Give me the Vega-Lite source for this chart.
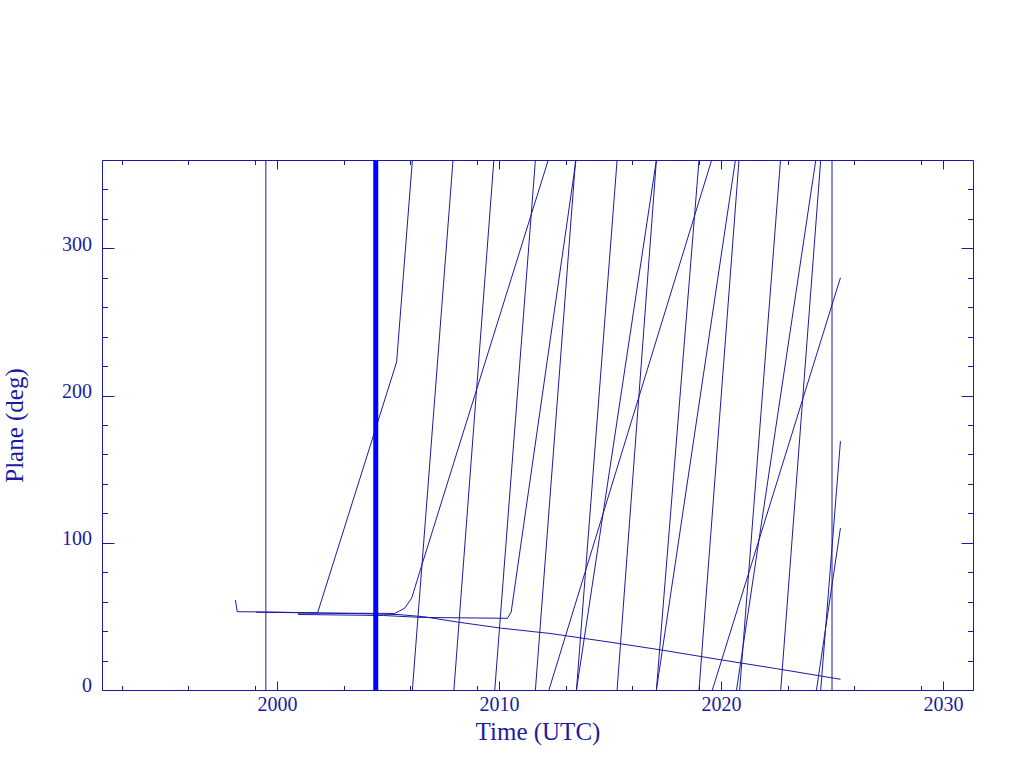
{
  "$schema": "https://vega.github.io/schema/vega-lite/v6.json",
  "width": 871,
  "height": 530,
  "autosize": {"type": "none"},
  "padding": {"left": 102, "top": 160, "right": 51, "bottom": 78},
  "background": "white",
  "config": {
    "view": {"stroke": null},
    "axis": {
      "grid": false,
      "domainColor": "#1a1aa6",
      "tickColor": "#1a1aa6",
      "labelColor": "#1a1aa6",
      "titleColor": "#1a1aa6",
      "domainWidth": 1,
      "tickWidth": 1,
      "labelFont": "Liberation Serif",
      "labelFontSize": 20,
      "titleFont": "Liberation Serif",
      "titleFontSize": 25,
      "titleFontWeight": "normal",
      "labelFlush": false,
      "labelOverlap": false,
      "labelBound": false
    }
  },
  "datasets": {
    "lines": [
      {"seg": "D", "t": 1998.13, "p": 61.1},
      {"seg": "D", "t": 1998.21, "p": 53.2},
      {"seg": "D", "t": 2000.0, "p": 52.9},
      {"seg": "D", "t": 2002.0, "p": 52.3},
      {"seg": "D", "t": 2004.0, "p": 51.8},
      {"seg": "D", "t": 2005.5, "p": 51.2},
      {"seg": "D", "t": 2006.6, "p": 49.8},
      {"seg": "D", "t": 2008.2, "p": 46.0},
      {"seg": "D", "t": 2010.1, "p": 42.0},
      {"seg": "D", "t": 2012.3, "p": 38.4},
      {"seg": "D", "t": 2015.0, "p": 32.5},
      {"seg": "D", "t": 2017.3, "p": 27.2},
      {"seg": "D", "t": 2020.0, "p": 20.5},
      {"seg": "D", "t": 2022.5, "p": 14.5},
      {"seg": "D", "t": 2025.38, "p": 7.3},
      {"seg": "A0", "t": 1999.07, "p": 52.8},
      {"seg": "A0", "t": 2001.83, "p": 52.4},
      {"seg": "A0", "t": 2005.39, "p": 222.8},
      {"seg": "A0", "t": 2006.10, "p": 360},
      {"seg": "F1", "t": 2006.10, "p": 0},
      {"seg": "F1", "t": 2007.93, "p": 360},
      {"seg": "F2", "t": 2007.97, "p": 0},
      {"seg": "F2", "t": 2009.77, "p": 360},
      {"seg": "F3", "t": 2009.81, "p": 0},
      {"seg": "F3", "t": 2011.64, "p": 360},
      {"seg": "F4", "t": 2011.64, "p": 0},
      {"seg": "F4", "t": 2013.45, "p": 360},
      {"seg": "F5", "t": 2013.49, "p": 0},
      {"seg": "F5", "t": 2015.32, "p": 360},
      {"seg": "F6", "t": 2015.32, "p": 0},
      {"seg": "F6", "t": 2017.09, "p": 360},
      {"seg": "F7", "t": 2017.09, "p": 0},
      {"seg": "F7", "t": 2019.01, "p": 360},
      {"seg": "F8", "t": 2019.01, "p": 0},
      {"seg": "F8", "t": 2020.81, "p": 360},
      {"seg": "F9", "t": 2020.84, "p": 0},
      {"seg": "F9", "t": 2022.68, "p": 360},
      {"seg": "F10", "t": 2022.69, "p": 0},
      {"seg": "F10", "t": 2024.49, "p": 360},
      {"seg": "F11", "t": 2024.49, "p": 0},
      {"seg": "F11", "t": 2025.38, "p": 169},
      {"seg": "B0", "t": 2000.93, "p": 52.3},
      {"seg": "B0", "t": 2005.30, "p": 52.0},
      {"seg": "B0", "t": 2005.75, "p": 55.5},
      {"seg": "B0", "t": 2006.07, "p": 62.5},
      {"seg": "B0", "t": 2006.43, "p": 80.2},
      {"seg": "B0", "t": 2012.22, "p": 360},
      {"seg": "B1", "t": 2012.25, "p": 0},
      {"seg": "B1", "t": 2019.58, "p": 360},
      {"seg": "B2", "t": 2019.61, "p": 0},
      {"seg": "B2", "t": 2025.38, "p": 280},
      {"seg": "C0", "t": 2000.95, "p": 51.3},
      {"seg": "C0", "t": 2004.8, "p": 50.6},
      {"seg": "C0", "t": 2006.5, "p": 49.3},
      {"seg": "C0", "t": 2010.38, "p": 48.7},
      {"seg": "C0", "t": 2010.55, "p": 53.0},
      {"seg": "C0", "t": 2013.47, "p": 360},
      {"seg": "C1", "t": 2013.49, "p": 0},
      {"seg": "C1", "t": 2017.09, "p": 360},
      {"seg": "C2", "t": 2017.09, "p": 0},
      {"seg": "C2", "t": 2020.65, "p": 360},
      {"seg": "C3", "t": 2020.70, "p": 0},
      {"seg": "C3", "t": 2024.27, "p": 360},
      {"seg": "C4", "t": 2024.30, "p": 0},
      {"seg": "C4", "t": 2025.38, "p": 110}
    ],
    "bounds": [
      {"t": 1999.5},
      {"t": 2025.0}
    ],
    "now": [
      {"t": 2004.45}
    ]
  },
  "resolve": {"axis": {"x": "independent", "y": "independent"}},
  "layer": [
    {
      "data": {"name": "lines"},
      "mark": {"type": "line", "color": "#1a1aa6", "strokeWidth": 1},
      "encoding": {
        "x": {
          "field": "t", "type": "quantitative",
          "scale": {"domain": [1992.12, 2031.35], "nice": false, "zero": false},
          "axis": {
            "orient": "bottom",
            "values": [1993, 1996, 1999, 2000, 2003, 2006, 2009, 2010, 2013, 2016, 2019, 2020, 2023, 2026, 2029, 2030],
            "format": "d",
            "labelExpr": "datum.value % 10 == 0 ? datum.label : ''",
            "tickSize": {"condition": {"test": "datum.value % 10 == 0", "value": -9}, "value": -4.5},
            "labelBaseline": "alphabetic",
            "labelPadding": 29,
            "title": "Time (UTC)",
            "titleX": 435.5,
            "titleY": 49,
            "titleAlign": "center",
            "titleBaseline": "alphabetic"
          }
        },
        "y": {
          "field": "p", "type": "quantitative",
          "scale": {"domain": [0, 360], "nice": false, "zero": true},
          "axis": {
            "orient": "left",
            "values": [0, 20, 40, 60, 80, 100, 120, 140, 160, 180, 200, 220, 240, 260, 280, 300, 320, 340, 360],
            "format": "d",
            "labelExpr": "datum.value % 100 == 0 ? datum.label : ''",
            "tickSize": {"condition": {"test": "datum.value % 100 == 0", "value": -12}, "value": -5.5},
            "labelBaseline": "alphabetic",
            "labelAlign": "right",
            "labelPadding": 22.6,
            "labelOffset": 1.7,
            "title": "Plane (deg)",
            "titleAngle": -90,
            "titleX": -80,
            "titleY": 265,
            "titleAlign": "center",
            "titleBaseline": "alphabetic"
          }
        },
        "detail": {"field": "seg"}
      }
    },
    {
      "data": {"name": "lines"},
      "mark": {"type": "line", "strokeOpacity": 0},
      "encoding": {
        "x": {
          "field": "t", "type": "quantitative",
          "scale": {"domain": [1992.12, 2031.35], "nice": false, "zero": false},
          "axis": {
            "orient": "top",
            "values": [1993, 1996, 1999, 2000, 2003, 2006, 2009, 2010, 2013, 2016, 2019, 2020, 2023, 2026, 2029, 2030],
            "labels": false,
            "tickSize": {"condition": {"test": "datum.value % 10 == 0", "value": -9}, "value": -4.5},
            "title": null
          }
        },
        "y": {
          "field": "p", "type": "quantitative",
          "scale": {"domain": [0, 360], "nice": false, "zero": true},
          "axis": {
            "orient": "right",
            "values": [0, 20, 40, 60, 80, 100, 120, 140, 160, 180, 200, 220, 240, 260, 280, 300, 320, 340, 360],
            "labels": false,
            "tickSize": {"condition": {"test": "datum.value % 100 == 0", "value": -12}, "value": -5.5},
            "title": null
          }
        },
        "detail": {"field": "seg"}
      }
    },
    {
      "data": {"name": "bounds"},
      "mark": {"type": "rule", "color": "#1a1aa6", "strokeWidth": 1},
      "encoding": {
        "x": {"field": "t", "type": "quantitative", "axis": null}
      }
    },
    {
      "data": {"name": "now"},
      "mark": {"type": "rule", "color": "#0000ff", "strokeWidth": 5},
      "encoding": {
        "x": {"field": "t", "type": "quantitative", "axis": null}
      }
    }
  ]
}
